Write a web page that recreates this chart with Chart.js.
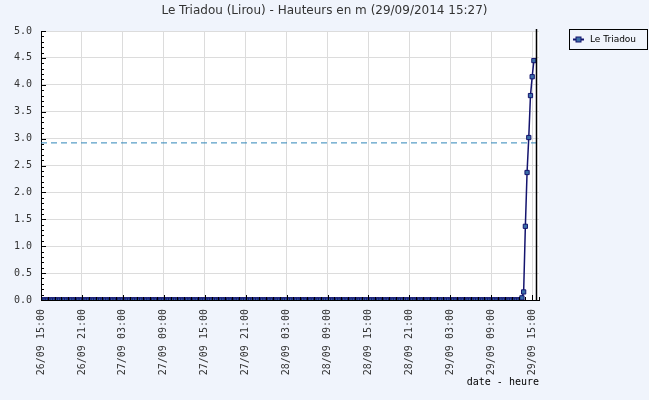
<!DOCTYPE html>
<html>
<head>
<meta charset="utf-8">
<title>Le Triadou (Lirou)</title>
<script src="https://cdn.jsdelivr.net/npm/chart.js@4/dist/chart.umd.min.js"></script>
<style>
	body { margin: 0; background: #f0f4fc; }
	canvas { display: block; }
</style>
</head>
<body>
<canvas id="myLineChart" width="649" height="400"></canvas>
<script>
// Hauteurs relevees toutes les 15 minutes depuis le 26/09 15:00 (en m)
const stationName = "Le Triadou";
const chartTitle = "Le Triadou (Lirou) - Hauteurs en m (29/09/2014 15:27)";
const startTime = Date.UTC(2014, 8, 26, 15, 0);
const stepMinutes = 15;
const levels = [
	0, 0, 0, 0, 0, 0, 0, 0, 0, 0, 0, 0, 0, 0, 0, 0, 0, 0, 0, 0, 0, 0, 0, 0,
	0, 0, 0, 0, 0, 0, 0, 0, 0, 0, 0, 0, 0, 0, 0, 0, 0, 0, 0, 0, 0, 0, 0, 0,
	0, 0, 0, 0, 0, 0, 0, 0, 0, 0, 0, 0, 0, 0, 0, 0, 0, 0, 0, 0, 0, 0, 0, 0,
	0, 0, 0, 0, 0, 0, 0, 0, 0, 0, 0, 0, 0, 0, 0, 0, 0, 0, 0, 0, 0, 0, 0, 0,
	0, 0, 0, 0, 0, 0, 0, 0, 0, 0, 0, 0, 0, 0, 0, 0, 0, 0, 0, 0, 0, 0, 0, 0,
	0, 0, 0, 0, 0, 0, 0, 0, 0, 0, 0, 0, 0, 0, 0, 0, 0, 0, 0, 0, 0, 0, 0, 0,
	0, 0, 0, 0, 0, 0, 0, 0, 0, 0, 0, 0, 0, 0, 0, 0, 0, 0, 0, 0, 0, 0, 0, 0,
	0, 0, 0, 0, 0, 0, 0, 0, 0, 0, 0, 0, 0, 0, 0, 0, 0, 0, 0, 0, 0, 0, 0, 0,
	0, 0, 0, 0, 0, 0, 0, 0, 0, 0, 0, 0, 0, 0, 0, 0, 0, 0, 0, 0, 0, 0, 0, 0,
	0, 0, 0, 0, 0, 0, 0, 0, 0, 0, 0, 0, 0, 0, 0, 0, 0, 0, 0, 0, 0, 0, 0, 0,
	0, 0, 0, 0, 0, 0, 0, 0, 0, 0, 0, 0, 0, 0, 0, 0, 0, 0, 0, 0, 0, 0, 0, 0,
	0, 0, 0, 0, 0, 0, 0, 0, 0, 0, 0, 0, 0, 0, 0, 0, 0, 0,
	0.04, 0.15, 1.37, 2.37, 3.02, 3.8, 4.15, 4.45
];
// seuil (ligne pointillee) et heure du releve (trait noir), en minutes depuis le debut
const thresholdLevel = 2.92;
const axisMaxMinutes = 4380;
const markerMinutes = 4356;
// graduations de l'axe des temps, en minutes depuis le debut (toutes les 6 h)
const xTicks = [0, 360, 720, 1080, 1440, 1800, 2160, 2520, 2880, 3240, 3600, 3960, 4320];
const yTicks = [0, 0.5, 1, 1.5, 2, 2.5, 3, 3.5, 4, 4.5, 5];

function pad(n) {
	return n < 10 ? "0" + n : "" + n;
}

function formatTick(minutes) {
	const d = new Date(startTime + minutes * 60000);
	return pad(d.getUTCDate()) + "/" + pad(d.getUTCMonth() + 1) + " " +
		pad(d.getUTCHours()) + ":" + pad(d.getUTCMinutes());
}

const points = levels.map((value, index) => ({ x: index * stepMinutes, y: value }));

const lineColor = "#14146e";
const markerFill = "#3b6fa8";

// petits traits de graduation vers l'interieur + trait du releve + titre + legende
const decorPlugin = {
	id: "decor",
	beforeDraw(chart) {
		const ctx = chart.ctx;
		const area = chart.chartArea;
		ctx.save();
		ctx.fillStyle = "#ffffff";
		ctx.fillRect(area.left, area.top, area.right - area.left, area.bottom - area.top);
		ctx.restore();
	},
	afterDraw(chart) {
		const ctx = chart.ctx;
		const area = chart.chartArea;
		const x = chart.scales.x;
		const y = chart.scales.y;
		ctx.save();
		ctx.strokeStyle = "#000";
		ctx.lineWidth = 1;
		ctx.beginPath();
		for (let i = 0; i <= 50; i++) {
			const py = Math.round(y.getPixelForValue(i / 10)) + 0.5;
			const len = i % 5 === 0 ? 5 : 3;
			ctx.moveTo(area.left, py);
			ctx.lineTo(area.left + len, py);
		}
		for (let m = 0; m <= axisMaxMinutes; m += 60) {
			const px = Math.round(x.getPixelForValue(m)) + 0.5;
			const len = m % 360 === 0 ? 5 : 3;
			ctx.moveTo(px, area.bottom);
			ctx.lineTo(px, area.bottom - len);
		}
		ctx.stroke();

		const mx = Math.round(x.getPixelForValue(markerMinutes)) + 0.5;
		ctx.lineWidth = 1.5;
		ctx.beginPath();
		ctx.moveTo(mx, area.top - 2);
		ctx.lineTo(mx, area.bottom);
		ctx.stroke();

		ctx.fillStyle = "#333";
		ctx.font = "12px 'DejaVu Sans'";
		ctx.textAlign = "center";
		ctx.textBaseline = "middle";
		ctx.fillText(chartTitle, chart.width / 2, 11);

		ctx.lineWidth = 1;
		ctx.strokeStyle = "#000";
		ctx.strokeRect(569.5, 29.5, 78, 20);
		ctx.strokeStyle = lineColor;
		ctx.lineWidth = 2;
		ctx.beginPath();
		ctx.moveTo(573, 39.5);
		ctx.lineTo(584, 39.5);
		ctx.stroke();
		ctx.fillStyle = markerFill;
		ctx.lineWidth = 1;
		ctx.fillRect(576, 37, 5, 5);
		ctx.strokeRect(576, 37, 5, 5);
		ctx.fillStyle = "#000";
		ctx.font = "9px 'DejaVu Sans'";
		ctx.textAlign = "left";
		ctx.fillText(stationName, 590, 39.5);
		ctx.restore();
	}
};

const ctx = document.getElementById("myLineChart");

new Chart(ctx, {
	type: "line",
	data: {
		datasets: [
			{
				label: stationName,
				data: points,
				borderColor: lineColor,
				borderWidth: 1.5,
				pointStyle: "rect",
				pointRadius: 3,
				pointBorderWidth: 1,
				pointBorderColor: lineColor,
				pointBackgroundColor: markerFill,
				tension: 0,
				order: 1,
			},
			{
				label: "seuil",
				data: [
					{ x: 0, y: thresholdLevel },
					{ x: axisMaxMinutes, y: thresholdLevel },
				],
				borderColor: "#2f86b8",
				borderWidth: 1,
				borderDash: [6, 4],
				pointRadius: 0,
				order: 2,
			},
		],
	},
	options: {
		responsive: false,
		animation: false,
		layout: {
			padding: { left: 0, right: 110, top: 31, bottom: 12 },
		},
		plugins: {
			legend: { display: false },
			title: { display: false },
			tooltip: { enabled: false },
		},
		scales: {
			x: {
				type: "linear",
				position: "bottom",
				min: 0,
				max: axisMaxMinutes,
				afterFit: (scale) => { scale.height = 88; },
				afterBuildTicks: (scale) => {
					scale.ticks = xTicks.map((v) => ({ value: v }));
				},
				ticks: {
					minRotation: 90,
					maxRotation: 90,
					autoSkip: false,
					padding: 9,
					color: "#333",
					font: { family: "'DejaVu Sans Mono'", size: 10 },
					callback: (value) => formatTick(value),
				},
				grid: { color: "#dcdcdc", drawTicks: false },
				border: { color: "#000", width: 1 },
				title: {
					display: true,
					text: "date - heure",
					align: "end",
					color: "#000",
					padding: 0,
					font: { family: "'DejaVu Sans Mono'", size: 10 },
				},
			},
			y: {
				min: 0,
				max: 5,
				afterFit: (scale) => { scale.width = 41; },
				afterBuildTicks: (scale) => {
					scale.ticks = yTicks.map((v) => ({ value: v }));
				},
				ticks: {
					padding: 9,
					color: "#333",
					font: { family: "'DejaVu Sans Mono'", size: 10 },
					callback: (value) => value.toFixed(1),
				},
				grid: { color: "#dcdcdc", drawTicks: false },
				border: { color: "#000", width: 1 },
			},
		},
	},
	plugins: [decorPlugin],
});
</script>
</body>
</html>
